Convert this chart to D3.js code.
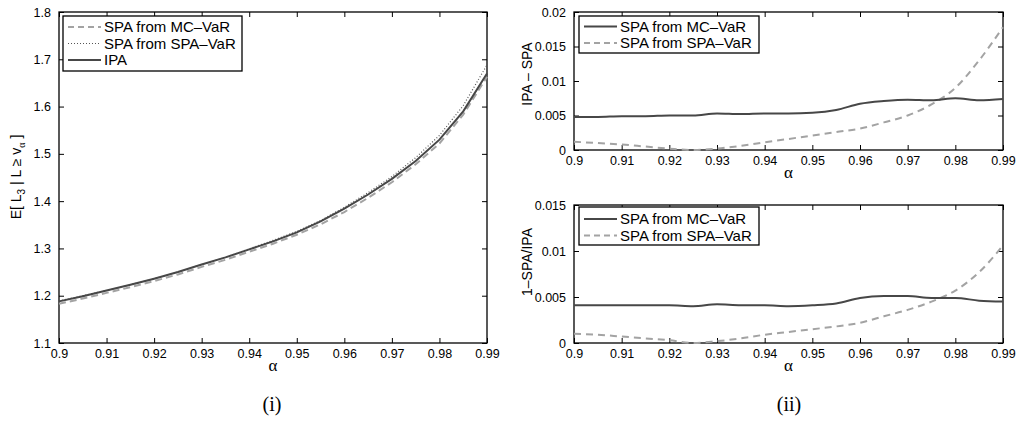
<!DOCTYPE html>
<html>
<head>
<meta charset="utf-8">
<script src="https://cdn.jsdelivr.net/npm/d3@7"></script>
<style>
  body { margin: 0; background: #fff; }
  text { font-family: "Liberation Sans", Arial, sans-serif; }
  .serif { font-family: "Liberation Serif", "DejaVu Serif", serif; }
</style>
</head>
<body>
<svg id="fig" width="1018" height="426"></svg>
<script>
// alpha grid, shared by all three panels
var alpha = [0.9, 0.905, 0.91, 0.915, 0.92, 0.925, 0.93, 0.935, 0.94, 0.945,
             0.95, 0.955, 0.96, 0.965, 0.97, 0.975, 0.98, 0.985, 0.99];
var xTicks = [0.9, 0.91, 0.92, 0.93, 0.94, 0.95, 0.96, 0.97, 0.98, 0.99];

// panel (i): E[L3 | L >= v_alpha]
var ipa       = [1.188, 1.199, 1.211, 1.223, 1.236, 1.250, 1.266, 1.281, 1.298, 1.315,
                 1.334, 1.357, 1.384, 1.414, 1.447, 1.485, 1.530, 1.590, 1.670];
var spaMcVar  = [1.183, 1.194, 1.206, 1.218, 1.231, 1.245, 1.261, 1.276, 1.293, 1.310,
                 1.329, 1.351, 1.377, 1.407, 1.440, 1.478, 1.522, 1.583, 1.663];
var spaSpaVar = [1.189, 1.200, 1.211, 1.223, 1.236, 1.250, 1.266, 1.281, 1.299, 1.317,
                 1.336, 1.359, 1.387, 1.418, 1.452, 1.492, 1.539, 1.602, 1.688];
var yTicksA = [1.1, 1.2, 1.3, 1.4, 1.5, 1.6, 1.7, 1.8];

// panel (ii) top: IPA - SPA
var diffMc  = [0.0048, 0.0048, 0.0049, 0.0049, 0.0050, 0.0050, 0.0053, 0.0052, 0.0053, 0.0053,
               0.0054, 0.0058, 0.0067, 0.0071, 0.0073, 0.0072, 0.0075, 0.0072, 0.0074];
var diffSpa = [0.0012, 0.0010, 0.0008, 0.0005, 0.0002, 0.0000, 0.0002, 0.0006, 0.0011, 0.0016,
               0.0021, 0.0026, 0.0031, 0.0040, 0.0050, 0.0066, 0.0090, 0.0130, 0.0178];
var yTicksB = [0, 0.005, 0.01, 0.015, 0.02];

// panel (ii) bottom: 1 - SPA/IPA
var relMc  = [0.0041, 0.0041, 0.0041, 0.0041, 0.0041, 0.0040, 0.0042, 0.0041, 0.0041, 0.0040,
              0.0041, 0.0043, 0.0049, 0.0051, 0.0051, 0.0049, 0.0049, 0.0046, 0.0045];
var relSpa = [0.0010, 0.0009, 0.0007, 0.0005, 0.0003, 0.0000, 0.0002, 0.0005, 0.0009, 0.0012,
              0.0015, 0.0018, 0.0022, 0.0029, 0.0036, 0.0045, 0.0057, 0.0077, 0.0106];
var yTicksC = [0, 0.005, 0.01, 0.015];

var svg = d3.select('#fig');

var DARK = '#474747', LIGHT = '#a3a3a3';

function fmt(d) { return String(+d.toFixed(3)); }

// draws one MATLAB-style boxed axes and returns its scales
function makeAxes(box, xDom, yDom, yTicks, yLabel, yLabelPos) {
    var g = svg.append('g');
    var x = d3.scaleLinear().domain(xDom).range([box.left, box.right]);
    var y = d3.scaleLinear().domain(yDom).range([box.bottom, box.top]);

    g.append('rect')
        .attr('x', box.left).attr('y', box.top)
        .attr('width', box.right - box.left).attr('height', box.bottom - box.top)
        .attr('fill', 'none').attr('stroke', '#000').attr('stroke-width', 1.3);

    // bottom axis, labelled, ticks pointing inward
    var ax = g.append('g').attr('transform', 'translate(0,' + box.bottom + ')')
        .call(d3.axisBottom(x).tickValues(xTicks).tickFormat(fmt).tickSizeInner(-5).tickSizeOuter(0).tickPadding(6));
    ax.select('.domain').remove();
    ax.selectAll('text').attr('font-size', 12.5).attr('fill', '#000')
        .attr('font-family', '"Liberation Sans", Arial, sans-serif');

    var at = g.append('g').attr('transform', 'translate(0,' + box.top + ')')
        .call(d3.axisTop(x).tickValues(xTicks).tickFormat('').tickSizeInner(-5).tickSizeOuter(0));
    at.select('.domain').remove();

    var ay = g.append('g').attr('transform', 'translate(' + box.left + ',0)')
        .call(d3.axisLeft(y).tickValues(yTicks).tickFormat(fmt).tickSizeInner(-5).tickSizeOuter(0).tickPadding(8));
    ay.select('.domain').remove();
    ay.selectAll('text').attr('font-size', 12.5).attr('fill', '#000')
        .attr('font-family', '"Liberation Sans", Arial, sans-serif');

    var ar = g.append('g').attr('transform', 'translate(' + box.right + ',0)')
        .call(d3.axisRight(y).tickValues(yTicks).tickFormat('').tickSizeInner(-5).tickSizeOuter(0));
    ar.select('.domain').remove();

    g.selectAll('.tick line').attr('stroke', '#000').attr('stroke-width', 1);

    // x label
    g.append('text').attr('class', 'serif')
        .attr('x', (box.left + box.right) / 2).attr('y', box.bottom + 28)
        .attr('text-anchor', 'middle').attr('font-size', 17).text('α');

    // y label
    var yl = g.append('text')
        .attr('transform', 'translate(' + yLabelPos[0] + ',' + yLabelPos[1] + ') rotate(-90)')
        .attr('text-anchor', 'middle').attr('font-size', 14);
    yLabel(yl);

    return {x: x, y: y, g: g};
}

function drawLine(ax, values, style, curve) {
    var line = d3.line()
        .x(function(d, i) { return ax.x(alpha[i]); })
        .y(function(d) { return ax.y(d); })
        .curve(curve || d3.curveLinear);
    ax.g.append('path').datum(values)
        .attr('d', line)
        .attr('fill', 'none')
        .attr('stroke', style.color)
        .attr('stroke-width', style.width)
        .attr('stroke-dasharray', style.dash || null);
}

function drawLegend(box, rows, entries) {
    var g = svg.append('g');
    g.append('rect')
        .attr('x', box.x).attr('y', box.y).attr('width', box.w).attr('height', box.h)
        .attr('fill', '#fff').attr('stroke', '#000').attr('stroke-width', 1.3);
    entries.forEach(function(e, i) {
        var cy = rows[i];
        g.append('line')
            .attr('x1', box.x + 5).attr('x2', box.x + 38)
            .attr('y1', cy).attr('y2', cy)
            .attr('stroke', e.color).attr('stroke-width', e.width)
            .attr('stroke-dasharray', e.dash || null);
        g.append('text')
            .attr('x', box.x + 41).attr('y', cy + 5)
            .attr('font-size', 15).text(e.label);
    });
}

var sMc   = {color: LIGHT, width: 2, dash: '7,4'};
var sDot  = {color: '#555', width: 1.2, dash: '1,2'};
var sIpa  = {color: DARK, width: 2};
var sMc2  = {color: DARK, width: 2};
var sSpa2 = {color: LIGHT, width: 2, dash: '7,5'};

// ---- panel (i)
var axA = makeAxes({left: 59, right: 487, top: 12, bottom: 343}, [0.9, 0.99], [1.1, 1.8], yTicksA,
    function(t) {
        t.append('tspan').text('E[ L');
        t.append('tspan').attr('font-size', 10).attr('dy', 4).text('3');
        t.append('tspan').attr('dy', -4).text(' | L ≥ v');
        t.append('tspan').attr('font-size', 10).attr('dy', 4).attr('class', 'serif').text('α');
        t.append('tspan').attr('dy', -4).text(' ]');
    }, [21, 177]);
drawLine(axA, spaMcVar, sMc);
drawLine(axA, spaSpaVar, sDot);
drawLine(axA, ipa, sIpa);
drawLegend({x: 63, y: 16, w: 179, h: 55}, [27, 43.5, 60], [
    {label: 'SPA from MC–VaR', color: sMc.color, width: sMc.width, dash: '6,4'},
    {label: 'SPA from SPA–VaR', color: sDot.color, width: sDot.width, dash: sDot.dash},
    {label: 'IPA', color: sIpa.color, width: sIpa.width}
]);

// ---- panel (ii) top
var axB = makeAxes({left: 574, right: 1003, top: 12, bottom: 150}, [0.9, 0.99], [0, 0.02], yTicksB,
    function(t) { t.text('IPA – SPA'); }, [532, 74]);
drawLine(axB, diffSpa, sSpa2, d3.curveMonotoneX);
drawLine(axB, diffMc, sMc2, d3.curveMonotoneX);
drawLegend({x: 579, y: 16, w: 180, h: 37}, [26.5, 43], [
    {label: 'SPA from MC–VaR', color: sMc2.color, width: sMc2.width},
    {label: 'SPA from SPA–VaR', color: sSpa2.color, width: sSpa2.width, dash: '6,4'}
]);

// ---- panel (ii) bottom
var axC = makeAxes({left: 574, right: 1003, top: 205, bottom: 343}, [0.9, 0.99], [0, 0.015], yTicksC,
    function(t) { t.text('1–SPA/IPA'); }, [532, 262]);
drawLine(axC, relSpa, sSpa2, d3.curveMonotoneX);
drawLine(axC, relMc, sMc2, d3.curveMonotoneX);
drawLegend({x: 579, y: 207, w: 180, h: 38}, [219, 235.5], [
    {label: 'SPA from MC–VaR', color: sMc2.color, width: sMc2.width},
    {label: 'SPA from SPA–VaR', color: sSpa2.color, width: sSpa2.width, dash: '6,4'}
]);

// captions
svg.append('text').attr('class', 'serif').attr('x', 272).attr('y', 411)
    .attr('text-anchor', 'middle').attr('font-size', 20).text('(i)');
svg.append('text').attr('class', 'serif').attr('x', 789).attr('y', 411)
    .attr('text-anchor', 'middle').attr('font-size', 20).text('(ii)');
</script>
</body>
</html>
